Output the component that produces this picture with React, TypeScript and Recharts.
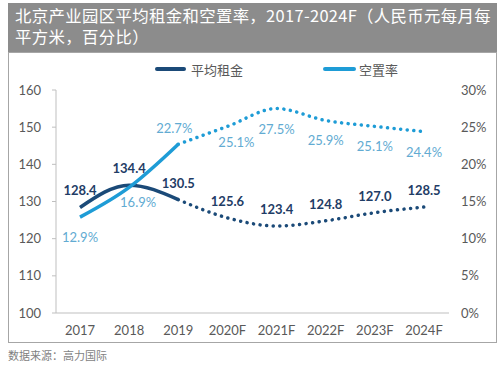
import React from 'react';
import { LineChart, Line, XAxis, YAxis, Legend, LabelList } from 'recharts';

// 年份（2020F 起为预测值）
const years = ['2017', '2018', '2019', '2020F', '2021F', '2022F', '2023F', '2024F'];
// 平均租金（人民币元每月每平方米）
const rent = [128.4, 134.4, 130.5, 125.6, 123.4, 124.8, 127.0, 128.5];
// 空置率（%）
const vacancy = [12.9, 16.9, 22.7, 25.1, 27.5, 25.9, 25.1, 24.4];
// 实际值的个数（2017-2019）
const actualCount = 3;

const rentTicks = [100, 110, 120, 130, 140, 150, 160];
const vacancyTicks = [0, 5, 10, 15, 20, 25, 30];

const RENT_COLOR = '#1B4A78';
const RENT_LABEL = '#1F3D66';
const VAC_COLOR = '#1E9CD6';
const VAC_LABEL = '#62ABD2';
const AXIS_COLOR = '#BFBFBF';
const TEXT_COLOR = '#595959';
const FONT = "Lato, 'Noto Sans CJK SC', sans-serif";

// 空置率标签相对数据点的偏移
const vacLabelDx = [0, 9, -4, 9, 0, 0, 0, 0];
const vacLabelDy = [20, 15, -16, 16, 20, 20, 20, 20];

const data = years.map((year, i) => ({
  year,
  rentActual: i < actualCount ? rent[i] : null,
  rentForecast: i >= actualCount - 1 ? rent[i] : null,
  vacActual: i < actualCount ? vacancy[i] : null,
  vacForecast: i >= actualCount - 1 ? vacancy[i] : null,
}));

const makeRentLabel = (forecast: boolean) => (props: any) => {
  const { x, y, value, index } = props;
  if (value == null) return null;
  if (forecast && index < actualCount) return null;
  return (
    <text
      x={x}
      y={y - 17}
      textAnchor="middle"
      dominantBaseline="central"
      fill={RENT_LABEL}
      fontSize={13}
      fontWeight={700}
      fontFamily={FONT}
    >
      {Number(value).toFixed(1)}
    </text>
  );
};

const makeVacLabel = (forecast: boolean) => (props: any) => {
  const { x, y, value, index } = props;
  if (value == null) return null;
  if (forecast && index < actualCount) return null;
  return (
    <text
      x={x + vacLabelDx[index]}
      y={y + vacLabelDy[index]}
      textAnchor="middle"
      dominantBaseline="central"
      fill={VAC_LABEL}
      fontSize={13}
      fontFamily={FONT}
    >
      {`${Number(value).toFixed(1)}%`}
    </text>
  );
};

const renderLegend = () => (
  <div
    style={{
      height: 20,
      display: 'flex',
      alignItems: 'center',
      paddingLeft: 147,
      fontSize: 13,
      color: TEXT_COLOR,
      fontFamily: FONT,
    }}
  >
    <span style={{ width: 31, height: 4, background: RENT_COLOR, borderRadius: 2, marginRight: 5 }} />
    <span style={{ marginRight: 80 }}>平均租金</span>
    <span style={{ width: 33, height: 4, background: VAC_COLOR, borderRadius: 2, marginRight: 3 }} />
    <span>空置率</span>
  </div>
);

const tick = { fill: TEXT_COLOR, fontSize: 13, fontFamily: FONT };

export default function App() {
  return (
    <div style={{ position: 'absolute', left: 8, top: 3, width: 489 }}>
      <div
        style={{
          height: 49,
          background: '#8C8C8C',
          color: '#FFFFFF',
          fontFamily: "'Noto Sans CJK SC', sans-serif",
          fontSize: 16.4,
          letterSpacing: 0.35,
          lineHeight: '21px',
          padding: '2px 0 0 7px',
          boxSizing: 'border-box',
          whiteSpace: 'nowrap',
        }}
      >
        <div style={{ height: 21 }}>北京产业园区平均租金和空置率，2017-2024F（人民币元每月每</div>
        <div style={{ height: 21 }}>平方米，百分比）</div>
      </div>
      <div style={{ width: 489, height: 291, boxShadow: 'inset 0 0 0 1px #A6A6A6' }}>
        <LineChart width={489} height={291} data={data} margin={{ top: 18, right: 0, bottom: 0, left: 0 }}>
          <Legend verticalAlign="top" content={renderLegend} wrapperStyle={{ top: 7, left: 0, width: 489 }} />
          <XAxis
            dataKey="year"
            height={30}
            padding={{ left: 24, right: 25 }}
            tickLine={false}
            tickSize={0}
            tickMargin={13}
            axisLine={{ stroke: AXIS_COLOR }}
            tick={tick}
            interval={0}
          />
          <YAxis
            yAxisId="rent"
            orientation="left"
            width={48}
            domain={[100, 160]}
            ticks={rentTicks}
            allowDataOverflow
            tickSize={4}
            tickMargin={11}
            axisLine={{ stroke: AXIS_COLOR }}
            tickLine={{ stroke: AXIS_COLOR }}
            tick={tick}
          />
          <YAxis
            yAxisId="vac"
            orientation="right"
            width={48}
            domain={[0, 30]}
            ticks={vacancyTicks}
            tickFormatter={(v: number) => `${v}%`}
            axisLine={false}
            tickLine={false}
            tickSize={0}
            tickMargin={12}
            tick={tick}
          />
          <Line
            yAxisId="rent"
            dataKey="rentActual"
            type="monotone"
            stroke={RENT_COLOR}
            strokeWidth={3.5}
            dot={false}
            activeDot={false}
            isAnimationActive={false}
          >
            <LabelList dataKey="rentActual" content={makeRentLabel(false)} />
          </Line>
          <Line
            yAxisId="rent"
            dataKey="rentForecast"
            type="monotone"
            stroke={RENT_COLOR}
            strokeWidth={3.5}
            strokeDasharray="0.1 6.5"
            strokeLinecap="round"
            dot={false}
            activeDot={false}
            isAnimationActive={false}
          >
            <LabelList dataKey="rentForecast" content={makeRentLabel(true)} />
          </Line>
          <Line
            yAxisId="vac"
            dataKey="vacActual"
            type="monotone"
            stroke={VAC_COLOR}
            strokeWidth={3.5}
            dot={false}
            activeDot={false}
            isAnimationActive={false}
          >
            <LabelList dataKey="vacActual" content={makeVacLabel(false)} />
          </Line>
          <Line
            yAxisId="vac"
            dataKey="vacForecast"
            type="monotone"
            stroke={VAC_COLOR}
            strokeWidth={3.5}
            strokeDasharray="0.1 6.5"
            strokeLinecap="round"
            dot={false}
            activeDot={false}
            isAnimationActive={false}
          >
            <LabelList dataKey="vacForecast" content={makeVacLabel(true)} />
          </Line>
        </LineChart>
      </div>
      <div
        style={{
          marginTop: 5,
          fontSize: 11,
          lineHeight: '14px',
          color: '#7F7F7F',
          fontFamily: "'Noto Sans CJK SC', sans-serif",
        }}
      >
        数据来源：高力国际
      </div>
    </div>
  );
}
